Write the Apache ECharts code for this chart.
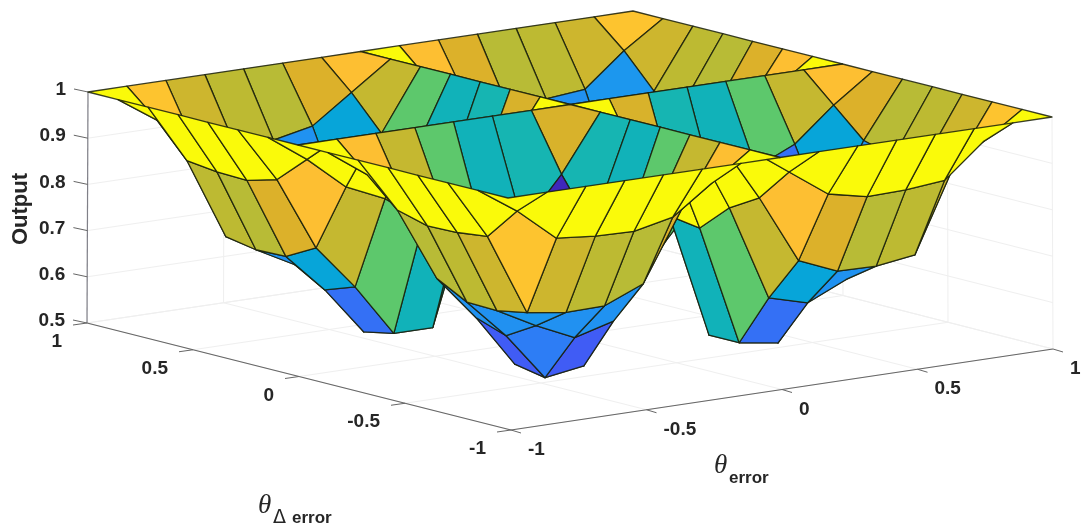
<!DOCTYPE html>
<html>
<head>
<meta charset="utf-8">
<title>Output surface</title>
<style>
html,body{margin:0;padding:0;background:#fff;}
#main{width:1085px;height:529px;}
</style>
<script src="https://cdn.jsdelivr.net/npm/echarts@6/dist/echarts.min.js"></script>
</head>
<body>
<div id="main"></div>
<script>
var errorValues=[-1,-0.857,-0.714,-0.571,-0.429,-0.286,-0.143,0,0.143,0.286,0.429,0.571,0.714,0.857,1];
var deltaValues=[-1,-0.857,-0.714,-0.571,-0.429,-0.286,-0.143,0,0.143,0.286,0.429,0.571,0.714,0.857,1];
// one row per delta value, left to right is error
var outputRows=[
[1,1,1,1,1,1,1,1,1,1,1,1,1,1,1],
[1,.943,.872,.864,.862,.88,.94,1,.94,.88,.862,.864,.872,.943,1],
[1,.872,.695,.683,.685,.72,.868,1,.868,.72,.685,.683,.695,.872,1],
[1,.864,.683,.638,.6,.623,.83,1,.83,.623,.6,.638,.683,.864,1],
[1,.862,.685,.6,.497,.51,.77,1,.77,.51,.497,.6,.685,.862,1],
[1,.88,.72,.623,.51,.51,.78,1,.78,.51,.51,.623,.72,.88,1],
[1,.94,.868,.83,.77,.78,.878,1,.878,.78,.77,.83,.868,.94,1],
[1,1,1,1,1,1,1,1,1,1,1,1,1,1,1],
[1,.94,.868,.83,.77,.78,.878,1,.878,.78,.77,.83,.868,.94,1],
[1,.88,.72,.623,.51,.51,.78,1,.78,.51,.51,.623,.72,.88,1],
[1,.862,.685,.6,.497,.51,.77,1,.77,.51,.497,.6,.685,.862,1],
[1,.864,.683,.638,.6,.623,.83,1,.83,.623,.6,.638,.683,.864,1],
[1,.872,.695,.683,.685,.72,.868,1,.868,.72,.685,.683,.695,.872,1],
[1,.943,.872,.864,.862,.88,.94,1,.94,.88,.862,.864,.872,.943,1],
[1,1,1,1,1,1,1,1,1,1,1,1,1,1,1]
];
var errorTicks=[-1,-0.5,0,0.5,1];
var deltaTicks=[-1,-0.5,0,0.5,1];
var outputTicks=[0.5,0.6,0.7,0.8,0.9,1];

// view box of the 3d axes, in page pixels: [err,delta] corner -> x,y
var topBox={ff:[508,198],bf:[1052,117],fb:[88,92],bb:[633,11]};
var floorBox={ff:[511,430],bf:[1053,349],fb:[87,323],bb:[633,242]};

// colour ramp, position 0..1 on output range
var ramp=[
[0,60,30,170],[.1,70,65,235],[.2,65,90,245],[.28,45,125,245],[.39,30,150,240],
[.46,0,170,210],[.56,20,180,180],[.66,90,200,110],[.73,190,186,50],[.77,228,175,40],
[.88,253,190,50],[.94,250,240,20],[1,250,250,10]
];
var outMin=0.497,outMax=1;

function rampColor(v)
{
    var c=(v-outMin)/(outMax-outMin);
    for(var i=1;i<ramp.length;i++)
    {
        if(c<=ramp[i][0])
        {
            var a=ramp[i-1],b=ramp[i];
            var k=(c-a[0])/(b[0]-a[0]);
            return 'rgb('+Math.round(a[1]+(b[1]-a[1])*k)+','+Math.round(a[2]+(b[2]-a[2])*k)+','+Math.round(a[3]+(b[3]-a[3])*k)+')';
        }
    }
    return 'rgb(250,250,10)';
}

// 3d data value -> the pixel-valued hidden axes
function project(err,delta,out)
{
    var u=(err+1)/2,v=(delta+1)/2,w=(out-0.5)/0.5;
    var p=[0,0];
    for(var n=0;n<2;n++)
    {
        var t=topBox.ff[n]*(1-u)*(1-v)+topBox.bf[n]*u*(1-v)+topBox.fb[n]*(1-u)*v+topBox.bb[n]*u*v;
        var f=floorBox.ff[n]*(1-u)*(1-v)+floorBox.bf[n]*u*(1-v)+floorBox.fb[n]*(1-u)*v+floorBox.bb[n]*u*v;
        p[n]=f+(t-f)*w;
    }
    return p;
}

function line(api,a,b,color,width)
{
    var p=api.coord(a),q=api.coord(b);
    return {type:'line',shape:{x1:p[0],y1:p[1],x2:q[0],y2:q[1]},style:{stroke:color,lineWidth:width}};
}

function label(api,at,dx,dy,str,align)
{
    var p=api.coord(at);
    return {type:'text',x:p[0]+dx,y:p[1]+dy,style:{text:str,fill:'#262626',font:'bold 19px "Liberation Sans"',textAlign:align,textVerticalAlign:'middle'}};
}

function title(api,x,y,str,font)
{
    var g=api.coord([x,y]);
    return {type:'text',x:g[0],y:g[1],style:{text:str,fill:'#262626',font:font,textVerticalAlign:'middle'}};
}

function renderFrame(params,api)
{
    var kids=[];
    var gridC='#efefef',axisC='#666666';
    var i,v;
    // back walls and floor
    for(i=0;i<errorTicks.length;i++)
    {
        v=errorTicks[i];
        kids.push(line(api,project(v,-1,.5),project(v,1,.5),gridC,1));
        kids.push(line(api,project(v,1,.5),project(v,1,1),gridC,1));
    }
    for(i=0;i<deltaTicks.length;i++)
    {
        v=deltaTicks[i];
        kids.push(line(api,project(-1,v,.5),project(1,v,.5),gridC,1));
        kids.push(line(api,project(1,v,.5),project(1,v,1),gridC,1));
    }
    for(i=0;i<outputTicks.length;i++)
    {
        v=outputTicks[i];
        kids.push(line(api,project(-1,1,v),project(1,1,v),gridC,1));
        kids.push(line(api,project(1,1,v),project(1,-1,v),gridC,1));
    }
    // axis lines
    kids.push(line(api,project(-1,1,.5),project(-1,1,1),'#808088',1.2));
    kids.push(line(api,project(-1,1,.5),project(-1,-1,.5),axisC,1.2));
    kids.push(line(api,project(-1,-1,.5),project(1,-1,.5),axisC,1.2));
    // ticks and labels
    for(i=0;i<outputTicks.length;i++)
    {
        v=outputTicks[i];
        var a=project(-1,1,v);
        kids.push(line(api,a,[a[0]-14,a[1]-3],axisC,1));
        kids.push(label(api,a,-22,-2,String(v),'right'));
    }
    for(i=0;i<deltaTicks.length;i++)
    {
        v=deltaTicks[i];
        var d=project(-1,v,.5);
        kids.push(line(api,d,[d[0]-14,d[1]+2],axisC,1));
        kids.push(label(api,d,-25,19,String(v),'right'));
    }
    for(i=0;i<errorTicks.length;i++)
    {
        v=errorTicks[i];
        var e=project(v,-1,.5);
        kids.push(line(api,e,[e[0]+10,e[1]+3],axisC,1));
        kids.push(label(api,e,17,20,String(v),'left'));
    }
    // axis titles
    var o=api.coord([21,209]);
    kids.push({type:'text',x:o[0],y:o[1],rotation:Math.PI/2,style:{text:'Output',fill:'#262626',font:'bold 22px "Liberation Sans"',textAlign:'center',textVerticalAlign:'middle'}});
    kids.push(title(api,714,466,'θ','italic 27px "Liberation Serif"'));
    kids.push(title(api,729,478,'error','bold 17px "Liberation Sans"'));
    kids.push(title(api,258,506,'θ','italic 27px "Liberation Serif"'));
    kids.push(title(api,273,518,'Δ','19px "DejaVu Sans"'));
    kids.push(title(api,292,518,'error','bold 17px "Liberation Sans"'));
    return {type:'group',children:kids};
}

function renderFace(params,api)
{
    var s=api.value(0),t=api.value(1);
    var corners=[[s,t],[s+1,t],[s+1,t+1],[s,t+1]];
    var pts=[];
    for(var i=0;i<4;i++)
    {
        var c=corners[i];
        pts.push(api.coord(project(errorValues[c[0]],deltaValues[c[1]],outputRows[c[1]][c[0]])));
    }
    return {
        type:'polygon',
        shape:{points:pts},
        style:{fill:rampColor(outputRows[t][s]),stroke:'rgba(25,30,10,0.85)',lineWidth:1.3,lineJoin:'round'}
    };
}

// back corner first so nearer faces paint over farther ones
var faces=[];
for(var t=deltaValues.length-2;t>=0;t--)
{
    for(var s=errorValues.length-2;s>=0;s--)
    {
        faces.push([s,t]);
    }
}

var myChart=echarts.init(document.getElementById('main'));
var option={
    animation:false,
    backgroundColor:'#ffffff',
    grid:{left:0,right:0,top:0,bottom:0},
    xAxis:{type:'value',min:0,max:1085,show:false},
    yAxis:{type:'value',min:0,max:529,inverse:true,show:false},
    series:[
        {type:'custom',coordinateSystem:'cartesian2d',silent:true,clip:false,data:[[0,0]],renderItem:renderFrame,z:1},
        {type:'custom',coordinateSystem:'cartesian2d',silent:true,clip:false,data:faces,renderItem:renderFace,z:2}
    ]
};
myChart.setOption(option);
</script>
</body>
</html>
